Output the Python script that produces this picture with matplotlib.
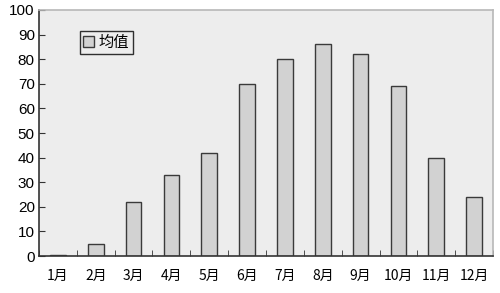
import matplotlib
matplotlib.use("Agg")
import matplotlib.pyplot as plt
import numpy as np

plt.rcParams['font.family'] = ['Noto Sans CJK SC', 'DejaVu Sans']

months = ['1月', '2月', '3月', '4月', '5月', '6月', '7月', '8月', '9月', '10月', '11月', '12月']
values = [0.3, 5, 22, 33, 42, 70, 80, 86, 82, 69, 40, 24]
series_name = '均值'

fig = plt.figure(figsize=(5, 2.93), dpi=100)
ax = fig.add_axes([0.078, 0.126, 0.908, 0.840])
ax.set_facecolor('#ededed')

x = np.arange(len(months))
ax.bar(x, values, width=0.41, color='#d2d2d2', edgecolor='#3a3a3a', linewidth=1.0,
       label=series_name, zorder=2)

ax.set_xlim(-0.5, len(months) - 0.5)
ax.set_ylim(0, 100)
ax.set_yticks(np.arange(0, 101, 10))
ax.set_yticklabels([str(v) for v in range(0, 101, 10)], family='Liberation Sans', fontsize=11)
ax.set_xticks(x)
ax.set_xticklabels(months, fontsize=10)
ax.set_xticks(np.arange(-0.5, len(months), 1), minor=True)
ax.tick_params(axis='x', which='major', length=0, pad=9)
ax.tick_params(axis='x', which='minor', direction='in', length=4, color='#333333')
ax.tick_params(axis='y', direction='in', length=4, color='#333333', pad=3)

for s in ['top', 'right']:
    ax.spines[s].set_color('#b8b8b8')
    ax.spines[s].set_linewidth(1.2)
for s in ['left', 'bottom']:
    ax.spines[s].set_color('#333333')
    ax.spines[s].set_linewidth(1.2)

leg = ax.legend(loc='upper left', bbox_to_anchor=(0.09, 0.915), frameon=True, fancybox=False,
                fontsize=11, handlelength=0.75, handleheight=0.75, handletextpad=0.3,
                borderpad=0.2, borderaxespad=0)
leg.get_frame().set_edgecolor('black')
leg.get_frame().set_facecolor('#ededed')
leg.get_frame().set_linewidth(1.0)

fig.savefig('out.png', dpi=100)
